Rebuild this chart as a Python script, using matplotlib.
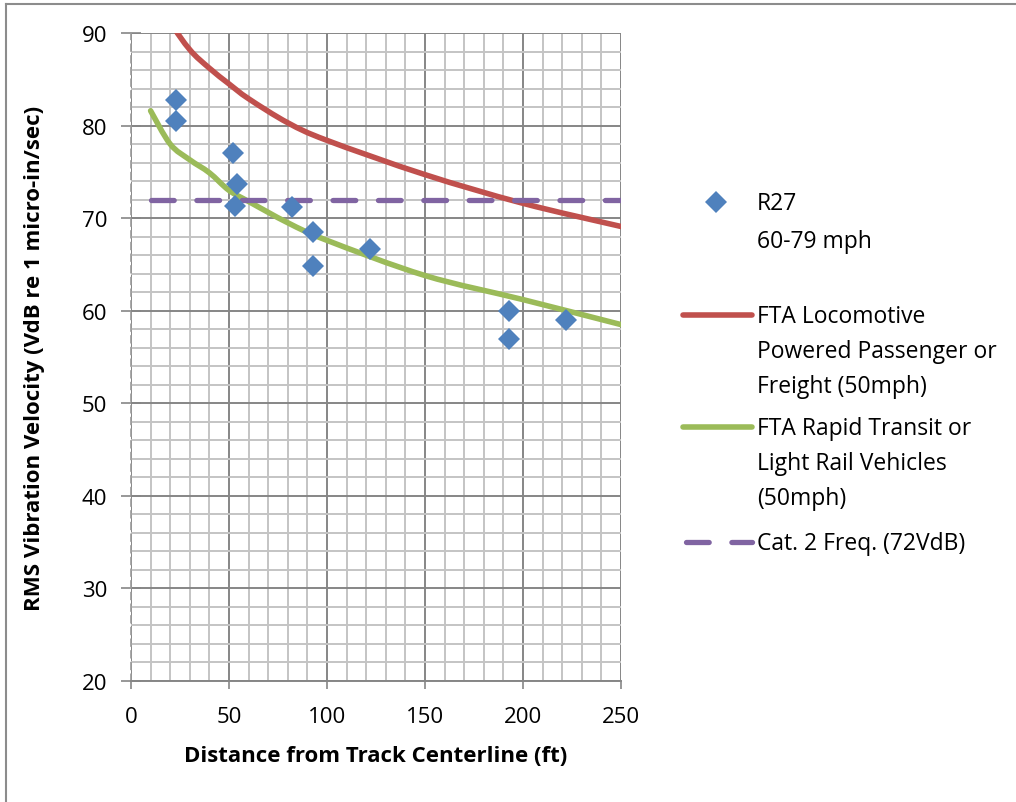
import matplotlib.pyplot as plt
from matplotlib.lines import Line2D
from matplotlib.patches import PathPatch
from matplotlib.path import Path
from matplotlib.ticker import MultipleLocator

# measured points (R27, 60-79 mph)
r27_dist = [23, 23, 52, 54, 53, 82, 93, 93, 122, 193, 193, 222]
r27_vdb = [82.8, 80.5, 77.0, 73.7, 71.3, 71.2, 68.5, 64.8, 66.7, 60.0, 56.9, 59.0]

# FTA generalized curves (50 mph)
fta_dist = [10, 20, 30, 40, 50, 60, 80, 100, 150, 200, 250]
loco_vdb = [96.0, 91.3, 88.2, 86.2, 84.5, 82.9, 80.3, 78.4, 74.7, 71.6, 69.1]
rapid_vdb = [81.6, 78.0, 76.3, 74.9, 73.0, 71.8, 69.5, 67.6, 63.8, 61.2, 58.5]

crit_dist = [10, 250]
crit_vdb = [72, 72]

labels = ["R27\n60-79 mph",
          "FTA Locomotive\nPowered Passenger or\nFreight (50mph)",
          "FTA Rapid Transit or\nLight Rail Vehicles\n(50mph)",
          "Cat. 2 Freq. (72VdB)"]

BLUE = "#4f81bd"
RED = "#c0504d"
GREEN = "#9bbb59"
PURPLE = "#8064a2"
DASH = (0, (4.3, 4.3))


def smooth_path(xs, ys):
    # Excel-style smoothed line: Catmull-Rom through the points as cubic Beziers
    pts = list(zip(xs, ys))
    verts = [pts[0]]
    codes = [Path.MOVETO]
    n = len(pts)
    for i in range(n - 1):
        p0 = pts[max(i - 1, 0)]
        p1 = pts[i]
        p2 = pts[i + 1]
        p3 = pts[min(i + 2, n - 1)]
        c1 = (p1[0] + (p2[0] - p0[0]) / 6, p1[1] + (p2[1] - p0[1]) / 6)
        c2 = (p2[0] - (p3[0] - p1[0]) / 6, p2[1] - (p3[1] - p1[1]) / 6)
        verts += [c1, c2, p2]
        codes += [Path.CURVE4] * 3
    return Path(verts, codes)


plt.rcParams['font.family'] = ['Open Sans', 'DejaVu Sans']

W, H = 1016, 803
fig = plt.figure(figsize=(W / 100, H / 100), dpi=100)
ax = fig.add_axes([131 / W, 1 - 682 / H, (621 - 131) / W, (682 - 34) / H])

ax.set_xlim(0, 250)
ax.set_ylim(20, 90)
ax.xaxis.set_major_locator(MultipleLocator(50))
ax.xaxis.set_minor_locator(MultipleLocator(10))
ax.yaxis.set_major_locator(MultipleLocator(10))
ax.yaxis.set_minor_locator(MultipleLocator(2))

ax.grid(which='minor', color='#c4c4c4', lw=1.4, zorder=0)
ax.grid(which='major', color='#868686', lw=1.4, zorder=0)
ax.set_axisbelow(True)

for s in ['top', 'right']:
    ax.spines[s].set_visible(False)
ax.spines['left'].set_color('#9a9a9a')
ax.spines['left'].set_linestyle((0, (4, 3)))
ax.spines['left'].set_linewidth(1.2)
ax.spines['bottom'].set_color('#868686')
ax.spines['bottom'].set_linewidth(1.4)

ax.tick_params(which='major', length=6, width=1.2, color='#868686', labelsize=16)
ax.tick_params(which='minor', length=0)
ax.tick_params(axis='x', which='major', pad=12)
ax.tick_params(axis='y', which='major', direction='inout', length=14, pad=10)

ax.add_patch(PathPatch(smooth_path(fta_dist, loco_vdb), fill=False, edgecolor=RED,
                       lw=4, zorder=3, capstyle='round'))
ax.add_patch(PathPatch(smooth_path(fta_dist, rapid_vdb), fill=False, edgecolor=GREEN,
                       lw=4, zorder=3, capstyle='round'))
ax.plot(crit_dist, crit_vdb, color=PURPLE, lw=3.8, zorder=3,
        linestyle=DASH, dash_capstyle='round')
ax.plot(r27_dist, r27_vdb, 'D', color=BLUE, ms=11, mew=0, zorder=4)

ax.set_xlabel("Distance from Track Centerline (ft)", fontsize=16, fontweight='bold', va='center')
ax.set_ylabel("RMS Vibration Velocity (VdB re 1 micro-in/sec)", fontsize=16,
              fontweight='bold', va='center')
ax.xaxis.set_label_coords(0.5, -(757 - 682) / 648)
ax.yaxis.set_label_coords(-(131 - 35) / 490, 0.5)

# legend drawn by hand so handles sit on the first text line
fs = 16.5
x_text = 757 / W
fig.add_artist(Line2D([716 / W], [1 - 203 / H], marker='D', color=BLUE, ms=11, mew=0,
                      transform=fig.transFigure))
fig.text(x_text, 1 - 192 / H, labels[0], fontsize=fs, va='top', linespacing=1.78)
fig.add_artist(Line2D([683 / W, 752 / W], [1 - 316 / H] * 2, color=RED, lw=4,
                      solid_capstyle='round', transform=fig.transFigure))
fig.text(x_text, 1 - 305 / H, labels[1], fontsize=fs, va='top', linespacing=1.62)
fig.add_artist(Line2D([683 / W, 752 / W], [1 - 428 / H] * 2, color=GREEN, lw=4,
                      solid_capstyle='round', transform=fig.transFigure))
fig.text(x_text, 1 - 417 / H, labels[2], fontsize=fs, va='top', linespacing=1.62)
fig.add_artist(Line2D([686 / W, 752 / W], [1 - 543 / H] * 2, color=PURPLE, lw=3.8,
                      linestyle=DASH, dash_capstyle='round', transform=fig.transFigure))
fig.text(x_text, 1 - 532 / H, labels[3], fontsize=fs, va='top', linespacing=1.62)

# chart border
fig.add_artist(Line2D([6 / W, 1], [1 - 5 / H] * 2, color='#8c8c8c', lw=1.5,
                      transform=fig.transFigure))
fig.add_artist(Line2D([6 / W] * 2, [1 - 5 / H, 0], color='#8c8c8c', lw=1.5,
                      transform=fig.transFigure))

fig.savefig("out.png", dpi=100)
